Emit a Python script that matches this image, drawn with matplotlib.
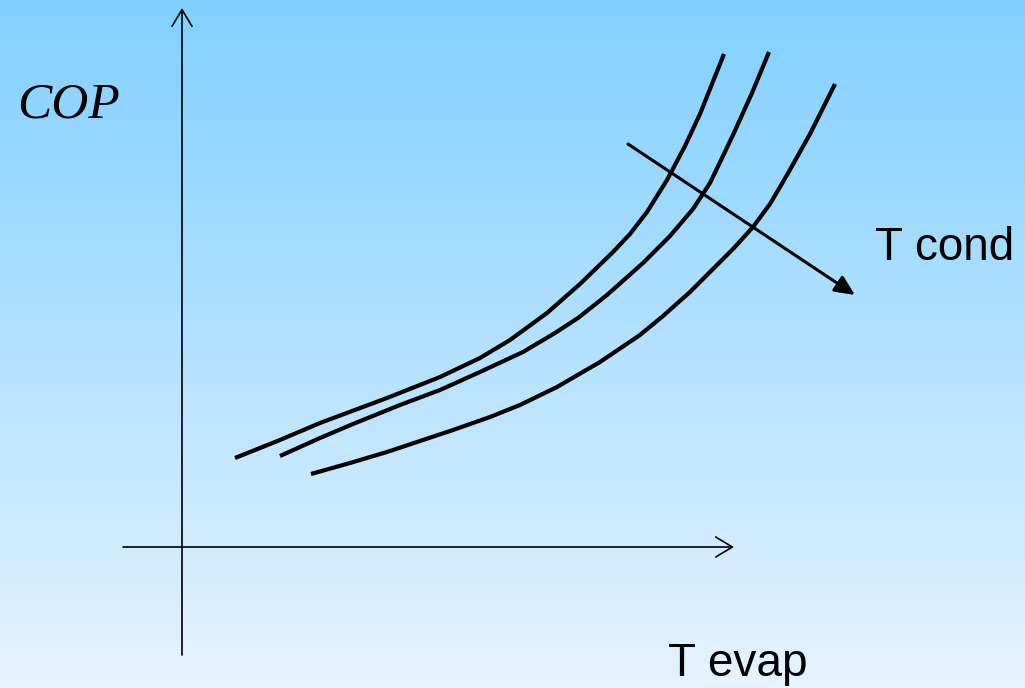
import matplotlib
matplotlib.use('Agg')
import matplotlib.pyplot as plt
import numpy as np
from matplotlib.colors import LinearSegmentedColormap

# COP vs evaporator temperature, one curve per condenser temperature
# (schematic units, origin at the axis crossing)
cond_low_x = [0.53, 0.98, 1.38, 2.05, 2.58, 2.98, 3.28, 3.65, 3.98, 4.31,
              4.48, 4.65, 4.85, 5.03, 5.18, 5.30, 5.42]
cond_low_y = [0.89, 1.07, 1.24, 1.49, 1.70, 1.89, 2.07, 2.34, 2.63, 2.95,
              3.13, 3.35, 3.67, 4.01, 4.33, 4.63, 4.93]

cond_mid_x = [0.98, 1.38, 1.71, 2.18, 2.58, 2.98, 3.41, 3.73, 3.96, 4.25,
              4.61, 4.88, 5.11, 5.28, 5.40, 5.51, 5.70, 5.87]
cond_mid_y = [0.91, 1.09, 1.23, 1.42, 1.57, 1.75, 1.95, 2.14, 2.29, 2.52,
              2.84, 3.11, 3.38, 3.64, 3.89, 4.12, 4.54, 4.95]

cond_high_x = [1.29, 1.68, 2.05, 2.38, 2.71, 3.08, 3.38, 3.75, 4.18, 4.58,
               4.81, 5.08, 5.28, 5.51, 5.71, 5.88, 6.05, 6.28, 6.53]
cond_high_y = [0.73, 0.84, 0.95, 1.06, 1.17, 1.30, 1.42, 1.60, 1.85, 2.12,
               2.31, 2.55, 2.75, 2.98, 3.20, 3.43, 3.72, 4.13, 4.63]

curves = [(cond_low_x, cond_low_y), (cond_mid_x, cond_mid_y), (cond_high_x, cond_high_y)]

# direction of increasing condenser temperature
trend_start = (4.46, 4.03)
trend_end = (6.73, 2.52)

x_label = 'T evap'
y_label = 'COP'
trend_label = 'T cond'

fig = plt.figure(figsize=(10.25, 6.88), dpi=100)
ax = fig.add_axes([0, 0, 1, 1])
ax.set_xlim(-1.82, 8.43)
ax.set_ylim(-1.41, 5.47)
ax.axis('off')

# sky-blue vertical gradient background
bg = LinearSegmentedColormap.from_list('bg', ['#80d0ff', '#e6f3ff'])
ax.imshow(np.linspace(0, 1, 256).reshape(-1, 1), cmap=bg, aspect='auto',
          extent=[-1.82, 8.43, -1.41, 5.47], origin='upper', zorder=0)

# axes with open arrowheads
axis_style = dict(arrowstyle='->,head_length=1.2,head_width=0.72', color='black',
                  lw=1.2, shrinkA=0, shrinkB=0, mutation_scale=10)
ax.annotate('', xy=(5.52, 0), xytext=(-0.59, 0), arrowprops=axis_style)
ax.annotate('', xy=(0, 5.39), xytext=(0, -1.08), arrowprops=axis_style)

for cx, cy in curves:
    ax.plot(cx, cy, color='black', lw=3.0, solid_capstyle='butt',
            solid_joinstyle='round', zorder=3)

ax.annotate('', xy=trend_end, xytext=trend_start,
            arrowprops=dict(arrowstyle='-|>,head_length=1.2,head_width=0.55',
                            color='black', lw=2.2, shrinkA=0, shrinkB=0,
                            mutation_scale=10), zorder=4)

ax.text(-1.65, 4.42, y_label, ha='left', va='center', fontsize=37,
        family='Liberation Serif', style='italic')
ax.text(6.93, 2.87, trend_label, ha='left', va='baseline', fontsize=33,
        family='Liberation Sans')
ax.text(4.86, -1.29, x_label, ha='left', va='baseline', fontsize=33,
        family='Liberation Sans')

plt.savefig('out.png', dpi=100)
